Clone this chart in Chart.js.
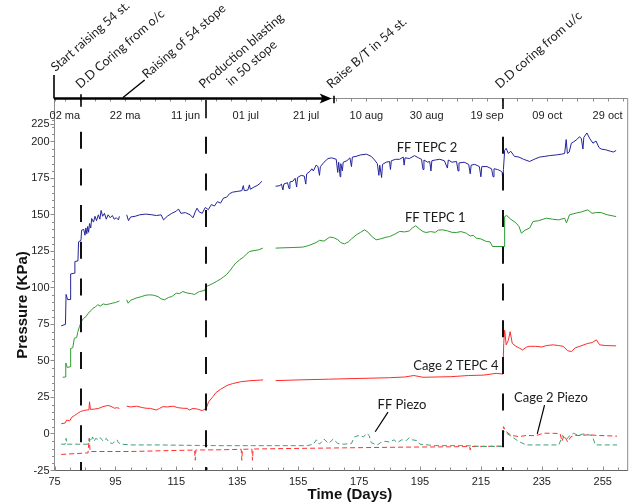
<!DOCTYPE html>
<html><head><meta charset="utf-8">
<script src="https://cdn.jsdelivr.net/npm/chart.js@4"></script>
<style>html,body{margin:0;padding:0;background:#fff;}</style>
</head><body>
<canvas id="c" width="632" height="504"></canvas>
<script>
// ---- data: [day, pressure kPa] ----
const tepc2 = [[77.2,74],[78.6,75],[78.8,95.5],[79.3,92],[80.1,92],[80.3,109.5],[81.5,110],[81.7,118],[82.7,118.5],[82.9,131.5],[83.7,132.5],[83.9,139.5],[84.6,140],[85.0,136],[85.3,141],[85.6,137],[85.9,142],[86.2,138],[86.5,144],[86.9,141],[87.2,147.5],[87.8,145],[88.3,149],[88.8,146],[89.4,150],[89.9,147],[90.3,153],[90.8,149],[91.4,151],[92.0,147],[92.6,150],[93.3,148],[94.0,149.5],[94.6,147],[95.3,148],[96.0,146.5],[96.3,149],[97.5,null],[98.7,150],[99.3,146],[100.0,148.5],[101.5,149],[103.0,150],[105.0,150.5],[107.0,150],[108.5,149.5],[110.0,150],[110.8,146.5],[112.0,149],[113.5,151],[115.0,152.5],[115.7,154],[116.5,151],[118.0,151.5],[119.5,150],[120.5,148],[121.2,152],[121.8,154.5],[122.5,152],[123.5,151],[124.5,155],[125.5,153.5],[126.5,157],[127.5,156],[128.5,159],[129.5,158],[130.5,161.5],[131.5,162],[132.5,164.5],[133.5,165.5],[135.0,166],[136.5,166.5],[137.0,170],[137.3,166.5],[138.5,167],[139.0,170.5],[139.3,167.5],[140.5,169],[141.5,170],[142.5,171.5],[143.0,173],[145.0,null],[147.6,169.5],[149.0,170],[149.5,171],[150.0,167],[150.3,171],[151.5,172],[152.0,168],[152.3,172.5],[153.3,173],[154.0,175],[154.5,169],[154.8,175.5],[156.0,177],[157.0,176.5],[157.5,171],[157.8,178],[159.0,180],[159.5,181.5],[160.0,180],[160.9,184],[161.5,183],[162.0,177],[162.3,183],[163.5,186],[164.8,188.5],[166.0,189],[167.5,188],[168.0,179],[168.3,186],[168.8,176],[169.0,185],[169.5,180],[169.8,186],[171.0,187],[172.0,189],[172.5,183],[172.8,189.5],[174.0,190],[175.5,191],[177.4,191.5],[179.0,190],[180.1,187.5],[181.0,185],[181.5,177],[181.8,184],[182.4,175.5],[182.7,184.5],[183.9,186],[185.0,186.5],[185.3,181],[185.6,187],[187.0,188],[188.3,188],[189.5,189.5],[189.8,184],[190.1,189],[191.5,188.5],[193.2,190.5],[194.5,189],[195.5,188],[196.0,181],[196.3,187.5],[197.5,186],[198.2,186.5],[198.6,180],[198.9,187],[200.0,187.5],[201.5,188],[203.0,187],[204.0,182],[204.3,187.5],[205.5,186],[207.0,186.5],[207.5,180],[207.8,185.5],[209.5,186],[211.0,184.5],[211.5,178],[211.8,184],[213.0,184.5],[214.5,183],[215.0,176],[215.3,183],[217.0,183],[218.5,181.5],[219.0,176],[219.3,181.5],[220.5,181],[221.5,180],[222.0,179],[222.2,172.5],[222.4,181],[222.8,194],[223.3,195.5],[224.0,192],[224.8,193.5],[226.0,190],[227.5,189.5],[229.0,188],[231.0,186.5],[232.5,188],[234.3,189.5],[236.0,190],[237.5,190.5],[239.8,191],[241.5,191.5],[242.5,192],[243.0,201.5],[243.4,192],[244.0,193],[244.7,199],[245.5,200],[246.5,201.5],[247.4,203.5],[248.0,202],[248.5,195],[248.8,203],[249.8,206],[250.8,202],[251.8,199],[252.8,200.5],[253.8,196],[254.5,195],[256.0,194.5],[257.5,193.5],[258.5,193],[259.4,194]];

const tepc1 = [[77.7,38.8],[78.6,39],[78.7,48.5],[79.2,45.5],[80.1,46],[80.3,58.5],[81.0,59],[81.5,65.5],[82.3,66],[82.6,69.5],[83.2,73.5],[83.8,77],[84.5,79],[85.4,80.5],[86.0,82.5],[87.0,84.5],[87.6,86],[88.5,87],[89.2,88.5],[90.0,87.5],[91.0,89],[92.0,88.5],[93.0,89],[94.0,89.5],[95.0,90],[96.3,91],[97.5,null],[98.7,91.8],[99.2,89.5],[100.0,91.5],[101.8,93],[103.5,94],[105.0,95],[106.2,95.2],[107.5,95],[109.0,94],[110.0,92.5],[111.1,91.8],[112.5,93.5],[113.5,94],[115.0,96.4],[116.0,96],[117.1,97.5],[118.5,96.5],[120.0,96],[121.0,95.5],[122.6,97.5],[124.3,98.2],[124.8,100.9],[126.0,102],[127.0,103],[128.1,104.3],[129.5,106],[130.5,107.5],[131.4,108.9],[132.5,111.5],[133.6,114.6],[134.5,117],[135.8,119.2],[137.0,121],[138.0,123],[139.0,124.9],[140.5,125.5],[142.0,126],[143.4,127.2],[145.0,null],[147.6,127.2],[150.0,127.4],[153.0,127.6],[156.5,127.9],[158.5,129],[160.9,131],[162.0,132.5],[163.5,132],[165.3,134.7],[166.5,134.5],[168.0,133],[169.0,131],[170.2,130.1],[171.5,131.5],[172.5,133.5],[174.1,136.3],[175.5,138],[176.8,139.7],[178.0,138],[179.0,135.5],[180.6,132.9],[182.0,133.5],[183.9,134.7],[185.0,135.1],[186.5,136.5],[188.3,138.6],[190.0,138.3],[191.5,139],[192.5,141],[193.6,142.5],[195.0,140],[196.0,138.5],[197.0,137.9],[198.5,138.5],[200.0,138],[201.0,139.5],[202.5,139.7],[204.0,139],[205.5,138],[206.9,137.9],[208.5,138.5],[210.2,137.4],[211.5,135.5],[212.5,136],[213.5,134],[215.0,133.5],[216.8,131.7],[218.0,131.5],[218.8,128.3],[221.0,128.3],[222.6,128.3],[222.8,148.8],[223.5,149.5],[224.8,147],[226.6,144.3],[227.5,142],[228.3,137.4],[229.5,139.5],[231.0,140.9],[232.1,145.4],[234.0,146],[236.5,147.7],[238.5,147],[240.5,146.5],[242.5,147.7],[243.1,144.5],[244.1,150],[246.3,151.2],[248.0,152],[250.1,153.4],[251.5,151],[252.9,151.6],[254.5,151.5],[256.5,150],[259.4,148.8]];

const tepc4 = [[77.2,7],[78.5,7.5],[79.0,9.5],[80.0,9],[80.7,11.5],[81.5,12.5],[82.5,14],[83.5,15.3],[84.5,16],[85.5,16.4],[86.3,16.5],[86.5,22],[86.8,16.8],[88.0,17],[89.5,17.5],[90.9,18.7],[92.5,19.5],[93.5,19],[94.7,17.6],[95.5,18],[96.3,17.5],[97.5,null],[98.7,19],[100,18.5],[102,19],[104,18],[105.1,17.6],[106.5,17.5],[108.4,16.4],[109.5,17.5],[110.6,18.7],[112,18.5],[114,19],[115.5,18],[117.1,17.6],[118.5,17.5],[119.3,16.4],[120.5,17.5],[122,17],[123.5,16],[124.8,17.5],[125.6,22],[127,25.5],[128,28.3],[129.5,30.5],[131.6,33.2],[133.5,34.5],[136.3,35.8],[139.5,36.5],[143.5,37],[145.5,null],[147.6,36.5],[155,37],[165,37.5],[175,38],[185,38.5],[190,39],[193,40],[196,38.8],[205,39.2],[211,40],[216,40.3],[220,41.5],[222.2,41],[222.5,62],[222.8,71],[223.3,61],[224.0,64],[224.6,70],[225.3,62],[226.5,60],[227.7,58.7],[228.7,57.5],[230,59.5],[231,60],[233,60],[235,59.5],[236.5,60.5],[238.7,61],[240.5,60.5],[242,60],[243.5,57],[244.7,56.4],[246,59],[247.5,60],[250.1,62],[251.5,62.5],[252.9,64.4],[254,61],[256,60.5],[259.4,60.3]];

const ffPiezo = [[77.2,-7],[78.5,-7],[78.8,-3],[79.1,-7],[81.0,-7],[86.0,-7],[86.5,-3],[87.0,-5],[87.5,-2],[88.0,-5],[88.5,-3],[89.5,-4],[90.0,-2.5],[91.0,-5],[92.0,-3],[93.0,-6],[94.0,-6.5],[95.5,-4],[96.0,-6],[97.0,-7],[100,-7.5],[110,-7.5],[120,-7.8],[130,-8],[140,-8],[150,-8],[158,-8],[160,-7],[161.0,-4],[162.0,-7],[163.5,-3.5],[165.0,-6.5],[166.5,-3.5],[168.0,-6.5],[170.0,-7],[172.5,-6.5],[173.5,-2],[175.0,-1],[176.5,-2],[177.5,0.5],[178.3,-1],[179.0,-6],[181.0,-7.5],[182.0,-6],[183.5,-5],[185.0,-5.5],[186.5,-4],[187.5,-6],[189.0,-4],[190.5,-4.5],[191.5,-2.5],[192.5,-4],[194.0,-4.5],[195.0,-7],[200,-8],[210,-8],[215,-8.5],[220,-8.5],[222.2,-8.5],[222.5,2],[223.4,0.5],[225.1,-1.8],[227.5,-5.2],[229.9,-7.5],[235,-7.5],[240.6,-7.5],[241.8,-1],[243.0,-4],[244.0,-1.5],[245.4,0.5],[247.0,-1],[248.5,0],[250.0,-0.5],[251.5,-1],[252.6,-7.5],[256,-7.5],[259.7,-7.5]];

const cagePiezo = [[77.2,-14],[85.5,-13],[86.0,-13],[86.4,-3],[86.7,-12],[100,-12],[110,-11.5],[121.0,-11],[121.2,-18],[121.4,-11],[130,-10.8],[136.3,-10.5],[136.5,-18],[136.7,-10.5],[139.8,-10.3],[140.0,-18],[140.2,-10.3],[150,-10],[170,-9.5],[190,-9],[205,-8.8],[211.3,-8.6],[211.5,-11],[211.7,-8.6],[222.2,-8.3],[222.4,5],[223.3,1.6],[225.0,-1],[227.5,-1.8],[230,-1],[233,-1.2],[235.5,0.5],[238,0.5],[241,0.3],[241.6,-5],[242.3,-1],[243.5,-5.5],[244.5,-2],[246,-1],[248,-1],[250.5,-0.5],[253,-1],[256,-1.2],[259.7,-1.5]];

const xTickValues = [75,95,115,135,155,175,195,215,235,255];
const yTickValues = [-25,0,25,50,75,100,125,150,175,200,212];
const yTickLabels = ['-25','0','25','50','75','100','125','150','175','200','225'];
const dateTickDays = [78.4,98.2,118,137.8,157.6,177.4,197.2,217,236.8,256.6];
const dateTickLabels = ['02 ma','22 ma','11 jun','01 jul','21 jul','10 aug','30 aug','19 sep','09 oct','29 oct'];
const eventDays = [83.8,124.9,222.3];
const seriesLabels = [
  {text:'FF TEPC 2', day:197.3, val:195.7},
  {text:'FF TEPC 1', day:200.0, val:148.0},
  {text:'Cage 2 TEPC 4', day:206.8, val:46.5},
  {text:'FF Piezo', day:189.1, val:19.8},
  {text:'Cage 2 Piezo', day:238.0, val:24.6}
];

const xy = arr => arr.map(p => ({x:p[0], y:p[1]}));
const TICKFONT = '"Liberation Sans", Arial, sans-serif';
const ANNFONT = 'Lato, "Open Sans", sans-serif';

const decor = {
  id:'decor',
  afterDatasetsDraw(chart){
    const {ctx, chartArea:a, scales:{x,y}} = chart;
    const X = d => x.getPixelForValue(d);
    ctx.save();
    ctx.strokeStyle='#8c8c8c'; ctx.lineWidth=1; ctx.setLineDash([]);
    ctx.beginPath(); ctx.moveTo(a.left, a.top); ctx.lineTo(a.right, a.top); ctx.lineTo(a.right, a.bottom); ctx.stroke();
    ctx.beginPath();
    for(let d=75; d<=263; d+=5){ const px=Math.round(X(d))+0.5; const len=((d-75)%20===0)?4:3; ctx.moveTo(px,a.bottom); ctx.lineTo(px,a.bottom-len); }
    ctx.stroke();
    ctx.beginPath();
    for(let d=dateTickDays[0]; d<=263; d+=4.95){ const px=Math.round(X(d))+0.5; ctx.moveTo(px,a.top); ctx.lineTo(px,a.top+3); }
    ctx.moveTo(Math.round(X(75))+0.5,a.top); ctx.lineTo(Math.round(X(75))+0.5,a.top+3);
    ctx.stroke();
    ctx.beginPath();
    for(let v=-25; v<=225; v+=5){ if(v%25===0) continue; const py=Math.round(y.getPixelForValue(v))+0.5; ctx.moveTo(a.left,py); ctx.lineTo(a.left-2.5,py); }
    ctx.stroke();
    ctx.fillStyle='#222'; ctx.font='11px '+TICKFONT; ctx.textAlign='center'; ctx.textBaseline='middle';
    dateTickDays.forEach((d,i)=>ctx.fillText(dateTickLabels[i], X(d), a.top+17.5));
    ctx.strokeStyle='#111'; ctx.lineWidth=2; ctx.setLineDash([17,19.7]);
    const starts=[a.top+33.2, a.top+38.2, a.top+38.2];
    eventDays.forEach((d,i)=>{ const px=Math.round(X(d)); ctx.beginPath(); ctx.moveTo(px,starts[i]); ctx.lineTo(px,a.bottom); ctx.stroke(); });
    ctx.setLineDash([]);
    ctx.lineWidth=1.6; ctx.strokeStyle='#000';
    const seg=(x1,y1,x2,y2)=>{ctx.beginPath();ctx.moveTo(x1,y1);ctx.lineTo(x2,y2);ctx.stroke();};
    seg(a.left-0.5, a.top-23.5, a.left-0.5, a.top);
    seg(Math.round(X(eventDays[0])), a.top-4.2, Math.round(X(eventDays[0])), a.top+8.2);
    seg(Math.round(X(eventDays[1])), a.top+1.5, Math.round(X(eventDays[1])), a.top+19.8);
    seg(Math.round(X(166.7)), a.top-2.8, Math.round(X(166.7)), a.top+4.8);
    seg(Math.round(X(eventDays[2])), a.top-0.2, Math.round(X(eventDays[2])), a.top+10.5);
    ctx.lineWidth=1.4;
    seg(X(97.5), a.top-1, X(104.6), a.top-18.5);
    const ax1 = X(166.0);
    ctx.lineWidth=2.6;
    seg(a.left-0.5, a.top, ax1-8, a.top);
    ctx.fillStyle='#000';
    ctx.beginPath(); ctx.moveTo(ax1-12, a.top-5); ctx.lineTo(ax1, a.top); ctx.lineTo(ax1-12, a.top+5); ctx.lineTo(ax1-9,a.top); ctx.closePath(); ctx.fill();
    ctx.fillStyle='#1a1a1a'; ctx.font='12.6px '+ANNFONT; ctx.textAlign='left'; ctx.textBaseline='alphabetic';
    const rot=(t,px,py)=>{ctx.save();ctx.translate(px,py);ctx.rotate(-41*Math.PI/180);ctx.fillText(t,0,0);ctx.restore();};
    rot('Start raising 54 st.', a.left+1, a.top-26.5);
    rot('D.D Coring from o/c', X(eventDays[0])-1, a.top-9.5);
    rot('Raising of 54 stope', X(105.3), a.top-19.5);
    rot('Production blasting', X(eventDays[1])-3, a.top-9.5);
    rot('in 50 stope', X(eventDays[1])+24.5, a.top-12);
    rot('Raise B/T in 54 st.', X(166.7)-2.5, a.top-9.5);
    rot('D.D coring from u/c', X(eventDays[2])-3.5, a.top-9.5);
    ctx.font='13px '+ANNFONT; ctx.textAlign='center'; ctx.textBaseline='middle';
    seriesLabels.forEach(s=>ctx.fillText(s.text, X(s.day), y.getPixelForValue(s.val)));
    ctx.lineWidth=1.2;
    seg(X(184.5), y.getPixelForValue(15), X(180.3), y.getPixelForValue(1.5));
    seg(X(235.9), y.getPixelForValue(19.8), X(233.5), y.getPixelForValue(0));
    ctx.fillStyle='#111'; ctx.font='bold 15px '+TICKFONT;
    ctx.fillText('Time (Days)', X(172.0), 495);
    ctx.save(); ctx.translate(22.5, 305); ctx.rotate(-Math.PI/2); ctx.fillText('Pressure (KPa)',0,0); ctx.restore();
    ctx.restore();
  }
};

const line = (data,color,dash)=>({data:xy(data), borderColor:color, borderWidth:1, pointRadius:0, tension:0, spanGaps:false, borderDash:dash||[], fill:false});

new Chart(document.getElementById('c'), {
  type:'line',
  data:{datasets:[
    line(ffPiezo,'#3f9f74',[5,3]),
    line(cagePiezo,'#ff2e2e',[5,3]),
    line(tepc4,'#ff2a2a'),
    line(tepc1,'#2f9a2f'),
    line(tepc2,'#23239b')
  ]},
  options:{
    responsive:false, animation:false, devicePixelRatio:1,
    layout:{padding:{top:98.5,right:4.3,left:0,bottom:0}},
    plugins:{legend:{display:false}, tooltip:{enabled:false}},
    scales:{
      x:{type:'linear', min:75, max:263.2,
        afterBuildTicks:s=>{s.ticks=xTickValues.map(v=>({value:v}));},
        afterFit:s=>{s.height=33.5;},
        grid:{display:false, drawTicks:false},
        border:{display:true, color:'#666', width:1},
        ticks:{font:{family:TICKFONT,size:11}, color:'#222', padding:5, maxRotation:0, autoSkip:false, callback:v=>String(v)}
      },
      y:{type:'linear', min:-25, max:229.6,
        afterBuildTicks:s=>{s.ticks=yTickValues.map(v=>({value:v}));},
        afterFit:s=>{s.width=54.5;},
        grid:{drawOnChartArea:false, drawTicks:true, tickLength:4, color:'#8c8c8c'},
        border:{display:true, color:'#8c8c8c', width:1},
        ticks:{font:{family:TICKFONT,size:11}, color:'#222', padding:1, autoSkip:false, callback:v=>{const i=yTickValues.indexOf(v); return i>=0?yTickLabels[i]:'';}}
      }
    }
  },
  plugins:[decor]
});
</script>
</body></html>
